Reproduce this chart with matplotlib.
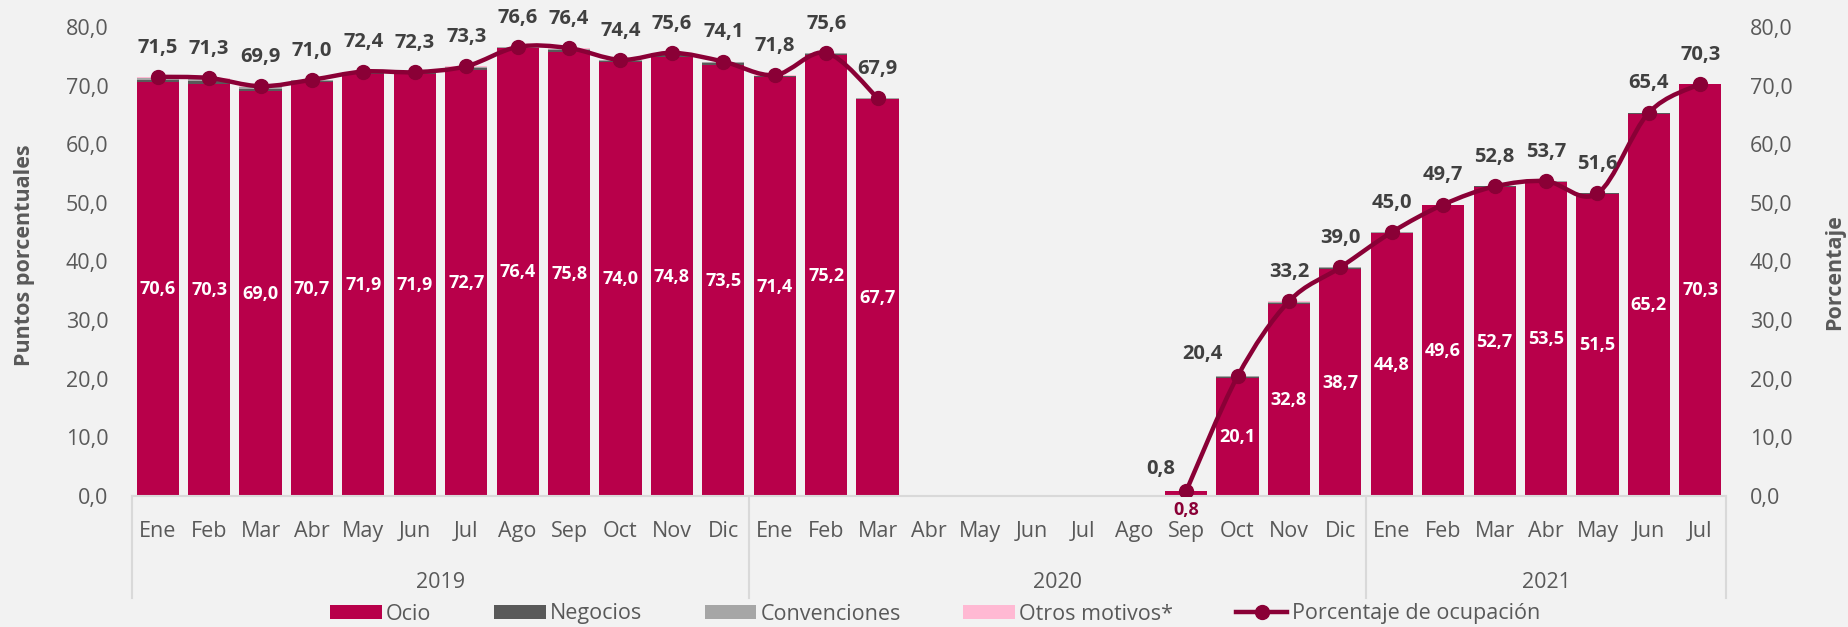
import numpy as np
import matplotlib
matplotlib.use("Agg")
import matplotlib.pyplot as plt
from matplotlib.patches import Patch, PathPatch
from matplotlib.path import Path
from matplotlib.lines import Line2D
import matplotlib.transforms as mtransforms

plt.rcParams['font.family'] = ['Open Sans', 'DejaVu Sans']

# Data
months = ['Ene', 'Feb', 'Mar', 'Abr', 'May', 'Jun', 'Jul', 'Ago', 'Sep', 'Oct', 'Nov', 'Dic',
          'Ene', 'Feb', 'Mar', 'Abr', 'May', 'Jun', 'Jul', 'Ago', 'Sep', 'Oct', 'Nov', 'Dic',
          'Ene', 'Feb', 'Mar', 'Abr', 'May', 'Jun', 'Jul']
years = ['2019', '2020', '2021']
year_lengths = [12, 12, 7]

nan = np.nan
ocio = [70.6, 70.3, 69.0, 70.7, 71.9, 71.9, 72.7, 76.4, 75.8, 74.0, 74.8, 73.5,
        71.4, 75.2, 67.7, nan, nan, nan, nan, nan, 0.8, 20.1, 32.8, 38.7,
        44.8, 49.6, 52.7, 53.5, 51.5, 65.2, 70.3]
negocios = [0.4, 0.5, 0.4, 0.1, 0.2, 0.2, 0.3, 0.1, 0.3, 0.2, 0.4, 0.3,
            0.2, 0.2, 0.1, nan, nan, nan, nan, nan, 0.0, 0.2, 0.2, 0.2,
            0.1, 0.1, 0.1, 0.1, 0.1, 0.1, 0.0]
convenciones = [0.3, 0.3, 0.3, 0.1, 0.2, 0.1, 0.2, 0.1, 0.2, 0.1, 0.3, 0.2,
                0.1, 0.1, 0.1, nan, nan, nan, nan, nan, 0.0, 0.1, 0.1, 0.1,
                0.1, 0.0, 0.0, 0.1, 0.0, 0.1, 0.0]
otros = [0.2, 0.2, 0.2, 0.1, 0.1, 0.1, 0.1, 0.0, 0.1, 0.1, 0.1, 0.1,
         0.1, 0.1, 0.0, nan, nan, nan, nan, nan, 0.0, 0.0, 0.1, 0.0,
         0.0, 0.0, 0.0, 0.0, 0.0, 0.0, 0.0]
ocupacion = [71.5, 71.3, 69.9, 71.0, 72.4, 72.3, 73.3, 76.6, 76.4, 74.4, 75.6, 74.1,
             71.8, 75.6, 67.9, nan, nan, nan, nan, nan, 0.8, 20.4, 33.2, 39.0,
             45.0, 49.7, 52.8, 53.7, 51.6, 65.4, 70.3]

# Colors
BG = '#F2F2F2'
C_OCIO = '#B8004A'
C_NEG = '#595959'
C_CONV = '#A6A6A6'
C_OTROS = '#FFB9D3'
C_LINE = '#8A0036'
C_TXT = '#595959'
C_LBL = '#404040'
C_GRID = '#D9D9D9'


def fmt(v):
    return f"{v:.1f}".replace('.', ',')


def smooth_path(xs, ys):
    """Excel-like smoothed line (Catmull-Rom as cubic Bezier)."""
    verts = [(xs[0], ys[0])]
    codes = [Path.MOVETO]
    n = len(xs)
    for i in range(n - 1):
        p0 = np.array([xs[max(i - 1, 0)], ys[max(i - 1, 0)]])
        p1 = np.array([xs[i], ys[i]])
        p2 = np.array([xs[i + 1], ys[i + 1]])
        p3 = np.array([xs[min(i + 2, n - 1)], ys[min(i + 2, n - 1)]])
        c1 = p1 + (p2 - p0) / 6
        c2 = p2 - (p3 - p1) / 6
        verts += [tuple(c1), tuple(c2), tuple(p2)]
        codes += [Path.CURVE4] * 3
    return Path(verts, codes)


fig = plt.figure(figsize=(18.48, 6.27), dpi=100, facecolor=BG)
ax = fig.add_axes([132 / 1848, 1 - 496 / 627, (1726 - 132) / 1848, (496 - 27) / 627])
ax.set_facecolor(BG)
ax2 = ax.twinx()

x = np.arange(len(months))
o = np.nan_to_num(np.array(ocio))
n_ = np.nan_to_num(np.array(negocios))
c_ = np.nan_to_num(np.array(convenciones))
t_ = np.nan_to_num(np.array(otros))
w = 0.82
ax.bar(x, o, w, color=C_OCIO, zorder=2)
ax.bar(x, n_, w, bottom=o, color=C_NEG, zorder=2)
ax.bar(x, c_, w, bottom=o + n_, color=C_CONV, zorder=2)
ax.bar(x, t_, w, bottom=o + n_ + c_, color=C_OTROS, zorder=2)

# labels inside bars
for xi, v in zip(x, ocio):
    if np.isnan(v):
        continue
    if v < 5:
        ax.annotate(fmt(v), (xi, 0), xytext=(0, -10), textcoords='offset points',
                    ha='center', va='center', fontsize=13, fontweight='bold', color=C_LINE,
                    annotation_clip=False)
    else:
        ax.text(xi, v / 2, fmt(v), ha='center', va='center', fontsize=13,
                fontweight='bold', color='white', zorder=3)

# line (smoothed), split at gap
occ = np.array(ocupacion)
valid = ~np.isnan(occ)
segs = []
cur = []
for i in range(len(occ)):
    if valid[i]:
        cur.append(i)
    elif cur:
        segs.append(cur)
        cur = []
if cur:
    segs.append(cur)
for s in segs:
    p = smooth_path(x[s].astype(float), occ[s])
    ax2.add_patch(PathPatch(p, facecolor='none', edgecolor=C_LINE, lw=3.2, zorder=4,
                            capstyle='round', joinstyle='round'))
ax2.plot(x[valid], occ[valid], 'o', color=C_LINE, markersize=10, zorder=5)

offsets = {20: (-18, 16), 21: (-25, 16)}
for xi, v in zip(x, ocupacion):
    if np.isnan(v):
        continue
    dx, dy = offsets.get(xi, (0, 21))
    ax2.annotate(fmt(v), (xi, v), xytext=(dx, dy), textcoords='offset points',
                 ha='center', va='center', fontsize=14.5, fontweight='bold', color=C_LBL,
                 zorder=6)

# axes formatting
ticks = np.arange(0, 81, 10)
for a in (ax, ax2):
    a.set_ylim(0, 80)
    a.set_xlim(-0.5, len(months) - 0.5)
    a.set_yticks(ticks)
    a.set_yticklabels([fmt(t) for t in ticks])
    for sp in a.spines.values():
        sp.set_visible(False)
ax.spines['bottom'].set_visible(True)
ax.spines['bottom'].set_color(C_GRID)
ax.spines['bottom'].set_linewidth(1.5)
ax.tick_params(axis='y', length=0, pad=17, labelsize=15.5, labelcolor=C_TXT)
ax2.tick_params(axis='y', length=0, pad=17, labelsize=15.5, labelcolor=C_TXT)
ax.set_xticks(x)
ax.set_xticklabels(months)
ax.tick_params(axis='x', length=0, pad=18, labelsize=15.5, labelcolor=C_TXT)

# multi-level category axis
trans = mtransforms.blended_transform_factory(ax.transData, ax.transAxes)
sep_bottom = -(598 - 496) / (496 - 27)
year_y = -(583 - 496) / (496 - 27)
start = 0
bounds = [-0.5]
for yr, ln in zip(years, year_lengths):
    ax.text(start + (ln - 1) / 2, year_y, yr, transform=trans, ha='center', va='center',
            fontsize=15.5, color=C_TXT)
    start += ln
    bounds.append(start - 0.5)
for b in bounds:
    ax.add_line(Line2D([b, b], [0, sep_bottom], transform=trans, color=C_GRID, lw=1.5,
                       clip_on=False))

# axis titles
fig.text(25 / 1848, 1 - 255 / 627, 'Puntos porcentuales', rotation=90, ha='center',
         va='center', fontsize=15.5, fontweight='bold', color=C_TXT)
fig.text(1835 / 1848, 1 - 272 / 627, 'Porcentaje', rotation=90, ha='center',
         va='center', fontsize=15.5, fontweight='bold', color=C_TXT)

# legend
handles = [
    Patch(facecolor=C_OCIO, label='Ocio'),
    Patch(facecolor=C_NEG, label='Negocios'),
    Patch(facecolor=C_CONV, label='Convenciones'),
    Patch(facecolor=C_OTROS, label='Otros motivos*'),
    Line2D([0], [0], color=C_LINE, lw=3.2, marker='o', markersize=10, label='Porcentaje de ocupación'),
]
leg = fig.legend(handles=handles, loc='center', bbox_to_anchor=(0.506, 1 - 614 / 627), ncol=5,
                 frameon=False, fontsize=15.5, handlelength=2.4, handleheight=0.65,
                 columnspacing=2.9, handletextpad=0.2, labelcolor=C_TXT)

fig.savefig('out.png', dpi=100, facecolor=BG)
